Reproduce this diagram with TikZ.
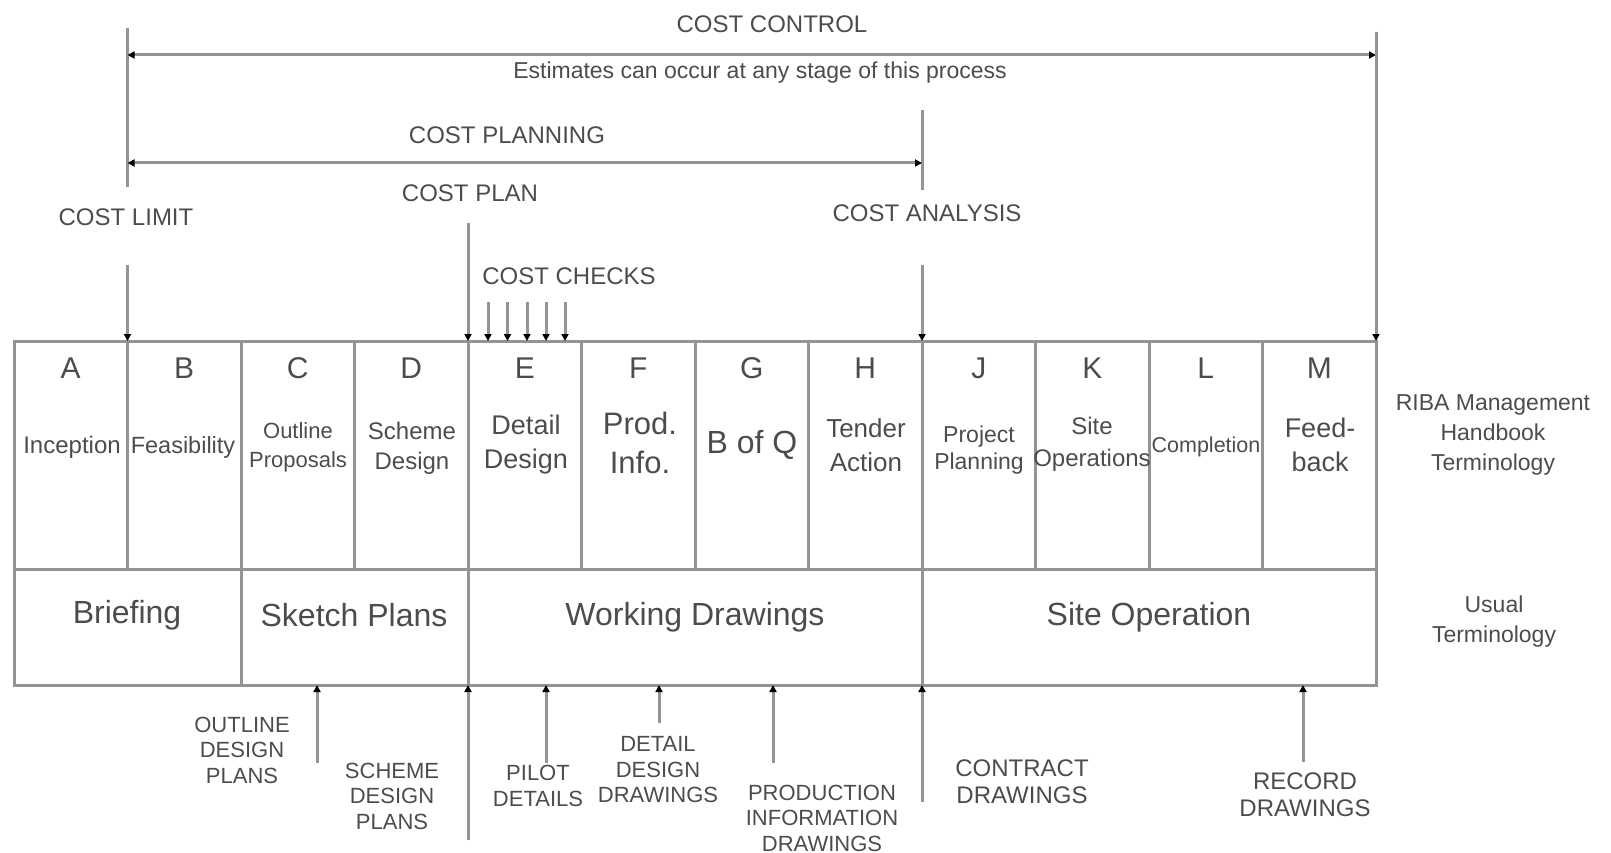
\documentclass[tikz,border=0pt]{standalone}
\usepackage{fontspec}
\setmainfont{Liberation Sans}
\usetikzlibrary{arrows.meta}
\definecolor{lc}{gray}{0.58}
\definecolor{tc}{gray}{0.30}
\newcommand{\fsz}[1]{\fontsize{#1}{\dimexpr #1pt*12/10\relax}\selectfont}
\begin{document}
\begin{tikzpicture}[x=1pt,y=-1pt,
  ln/.style={draw=lc, line width=3pt},
  tipe/.style={-{Triangle[length=7pt,width=7pt,color=black]}},
  tipb/.style={{Triangle[length=7pt,width=7pt,color=black]}-{Triangle[length=7pt,width=7pt,color=black]}},
  cell/.style={draw=lc, line width=3pt, minimum width=113.5pt, minimum height=228pt, anchor=north west, outer sep=0pt, inner sep=0pt},
  rowcell/.style={draw=lc, line width=3pt, minimum height=116pt, anchor=north west, outer sep=0pt, inner sep=0pt},
  txt/.style={text=tc, inner sep=0pt, align=center},
  head/.style={txt, font=\fontsize{24}{28}\selectfont},
  letter/.style={txt, font=\fontsize{30}{34}\selectfont},
  big/.style={txt, font=\fontsize{32}{36}\selectfont},
  small/.style={txt, font=\fontsize{22}{25.5}\selectfont},
  side/.style={txt, font=\fontsize{23}{30}\selectfont}
]
\useasboundingbox (0,0) rectangle (1611,853);

% ---- table top row cells
\foreach \n [count=\i from 0] in {A,B,C,D,E,F,G,H,J,K,L,M}{
  \node[cell] (c\n) at ({14+113.5*\i},341) {};
  \node[letter] (l\n) at ({70.75+113.5*\i},368) {\n};
}
% ---- bottom row cells
\node[rowcell, minimum width=227pt] (rBrief) at (14,569) {};
\node[rowcell, minimum width=227pt] (rSketch) at (241,569) {};
\node[rowcell, minimum width=454pt] (rWork) at (468,569) {};
\node[rowcell, minimum width=454pt] (rSite) at (922,569) {};

\node[big] (tBrief) at (127,615) {Briefing};
\node[big] (tSketch) at (354,615) {Sketch Plans};
\node[big] (tWork) at (695,617) {Working Drawings};
\node[big] (tSite) at (1149,617) {Site Operation};

% ---- stage names
\node[txt, font=\fsz{24}] (nA) at (72,447) {Inception};
\node[txt, font=\fsz{23.5}] (nB) at (183,447) {Feasibility};
\node[txt, font=\fontsize{22}{29}\selectfont] (nC) at (298,447) {Outline\\Proposals};
\node[txt, font=\fontsize{24}{30}\selectfont] (nD) at (412,448) {Scheme\\Design};
\node[txt, font=\fontsize{27}{34}\selectfont] (nE) at (526,445) {Detail\\Design};
\node[txt, font=\fontsize{31}{39}\selectfont] (nF) at (640,443) {Prod.\\Info.};
\node[txt, font=\fsz{32}] (nG) at (752,445) {B of Q};
\node[txt, font=\fontsize{26}{34}\selectfont] (nH) at (866,445) {Tender\\Action};
\node[txt, font=\fontsize{23}{27}\selectfont] (nJ) at (979,450) {Project\\Planning};
\node[txt, font=\fontsize{24}{32}\selectfont] (nK) at (1092,444) {Site\\Operations};
\node[txt, font=\fsz{21.5}] (nL) at (1206,447) {Completion};
\node[txt, font=\fontsize{27}{34}\selectfont] (nM) at (1320,445) {Feed-\\back};

% ---- side labels
\node[side] (riba) at (1493,435) {RIBA Management\\Handbook\\Terminology};
\node[side] (usual) at (1494,622) {Usual\\Terminology};

% ---- top labels
\node[head] (hCC) at (772,24) {COST CONTROL};
\node[txt, font=\fsz{23}] (hEst) at (760,73) {Estimates can occur at any stage of this process};
\node[head] (hCP) at (507,135) {COST PLANNING};
\node[head] (hPlan) at (470,193) {COST PLAN};
\node[head] (hLim) at (126,217) {COST LIMIT};
\node[head] (hAn) at (927,213) {COST ANALYSIS};
\node[head] (hChk) at (569,276) {COST CHECKS};

% ---- top connectors
\coordinate (limT) at (127.5,28);
\coordinate (limM) at (127.5,187);
\coordinate (limB) at (127.5,265);
\coordinate (ctrR) at (1376,32);
\coordinate (anT) at (922,110);
\coordinate (anM) at (922,190);
\coordinate (anB) at (922,265);
\coordinate (planT) at (468,223);
\draw[ln] (limT) -- (limM);
\draw[ln] (anT) -- (anM);
\draw[ln, tipb] (limT |- 0,55) -- (ctrR |- 0,55);
\draw[ln, tipb] (limT |- 0,163) -- (anT |- 0,163);
\draw[ln, tipe] (limB) -- (cB.north west);
\draw[ln, tipe] (anB) -- (cJ.north west);
\draw[ln, tipe] (ctrR) -- (cM.north east);
\draw[ln, tipe] (planT) -- (cE.north west);
\foreach \x [count=\k] in {488,507.5,527,546,565}{
  \coordinate (ck\k) at (\x,302);
  \draw[ln, tipe] (ck\k) -- (ck\k |- cE.north);
}

% ---- bottom labels
\node[small] (bOut) at (242,750) {OUTLINE\\DESIGN\\PLANS};
\node[small] (bSch) at (392,796) {SCHEME\\DESIGN\\PLANS};
\node[small] (bPil) at (538,786) {PILOT\\DETAILS};
\node[small] (bDet) at (658,770) {DETAIL\\DESIGN\\DRAWINGS};
\node[small] (bPro) at (822,818) {PRODUCTION\\INFORMATION\\DRAWINGS};
\node[txt, font=\fontsize{24}{27}\selectfont] (bCon) at (1022,782) {CONTRACT\\DRAWINGS};
\node[txt, font=\fontsize{24}{27}\selectfont] (bRec) at (1305,795) {RECORD\\DRAWINGS};

% ---- bottom connectors
\coordinate (u1) at (317,763);
\coordinate (u2) at (468,840);
\coordinate (u3) at (546,763);
\coordinate (u4) at (659,723);
\coordinate (u5) at (773,763);
\coordinate (u6) at (922,802);
\coordinate (u7) at (1303,762);
\draw[ln, tipe] (u1) -- (u1 |- rSketch.south);
\draw[ln, tipe] (u2) -- (rWork.south west);
\draw[ln, tipe] (u3) -- (u3 |- rWork.south);
\draw[ln, tipe] (u4) -- (u4 |- rWork.south);
\draw[ln, tipe] (u5) -- (u5 |- rWork.south);
\draw[ln, tipe] (u6) -- (rSite.south west);
\draw[ln, tipe] (u7) -- (u7 |- rSite.south);
\end{tikzpicture}
\end{document}
